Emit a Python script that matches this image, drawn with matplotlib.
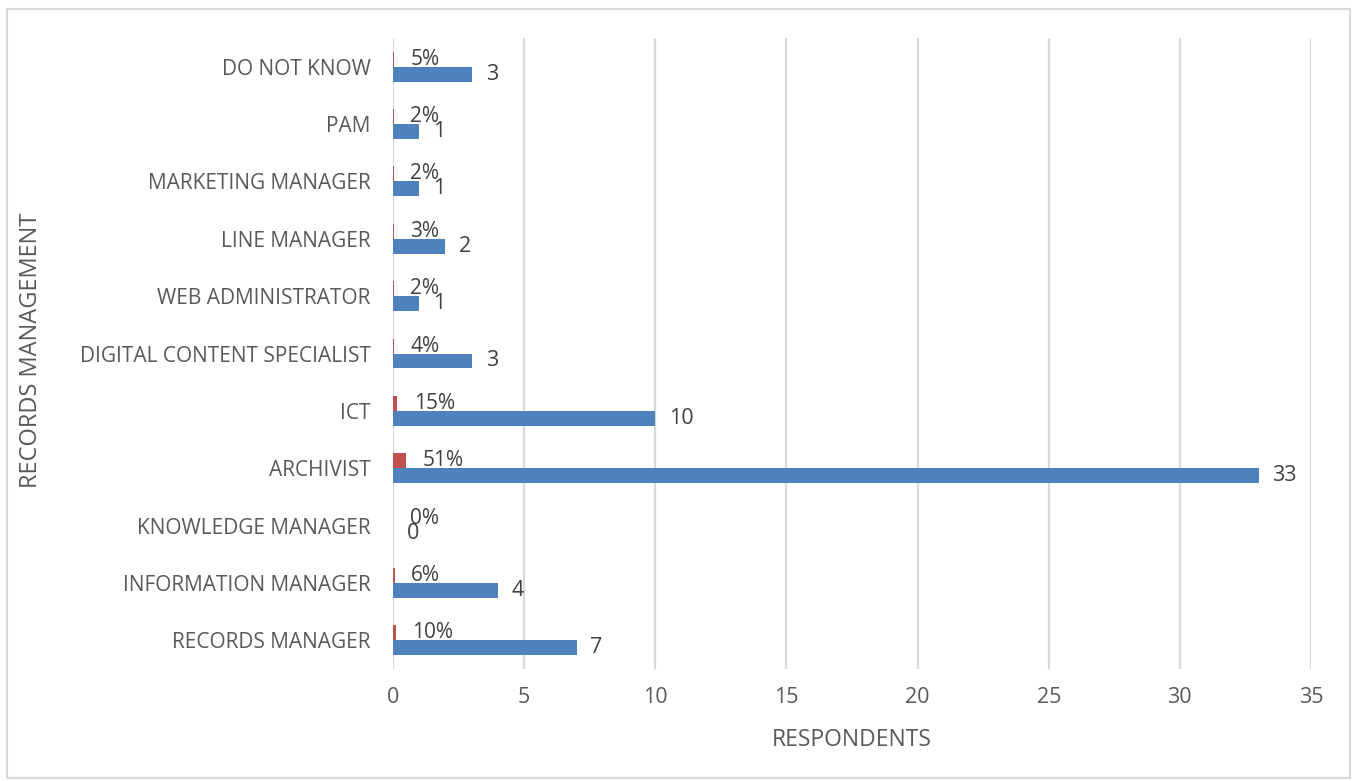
import matplotlib.pyplot as plt
from matplotlib.patches import Rectangle
import numpy as np

plt.rcParams['font.family'] = ['Open Sans', 'DejaVu Sans']

# Job titles, bottom to top
roles = ['RECORDS MANAGER', 'INFORMATION MANAGER', 'KNOWLEDGE MANAGER', 'ARCHIVIST',
         'ICT', 'DIGITAL CONTENT SPECIALIST', 'WEB ADMINISTRATOR', 'LINE MANAGER',
         'MARKETING MANAGER', 'PAM', 'DO NOT KNOW']
respondents = [7, 4, 0, 33, 10, 3, 1, 2, 1, 1, 3]
share = [0.10, 0.06, 0.0, 0.51, 0.15, 0.04, 0.02, 0.03, 0.02, 0.02, 0.05]

blue = '#4F81BD'
red = '#C0504D'
grey = '#595959'

fig = plt.figure(figsize=(13.57, 7.81), dpi=100)
ax = fig.add_axes([393/1357, 1 - 669/781, (1311 - 393)/1357, (669 - 38)/781])

y = np.arange(len(roles))
h = 0.26
bars_n = ax.barh(y - h/2, respondents, height=h, color=blue, zorder=3)
bars_p = ax.barh(y + h/2, share, height=h, color=red, zorder=3)

for b, v in zip(bars_n, respondents):
    ax.annotate(str(v), (b.get_width(), b.get_y() + b.get_height()/2),
                xytext=(10, 0), textcoords='offset points',
                va='center', ha='left', fontsize=15.5, color='#404040')
for b, v in zip(bars_p, share):
    ax.annotate(f'{round(v*100)}%', (b.get_width(), b.get_y() + b.get_height()/2),
                xytext=(12, 0), textcoords='offset points',
                va='center', ha='left', fontsize=15, color='#404040')

ax.set_xlim(0, 35)
ax.set_ylim(-0.5, len(roles) - 0.5)
ax.set_xticks(range(0, 36, 5))
ax.set_yticks(y)
ax.set_yticklabels(roles)
ax.tick_params(length=0, labelsize=15, labelcolor=grey)
ax.tick_params(axis='x', pad=13, labelsize=15.5)
ax.tick_params(axis='y', pad=16)
ax.grid(axis='x', color='#D9D9D9', linewidth=1.6, zorder=0)
for s in ax.spines.values():
    s.set_visible(False)

ax.set_xlabel('RESPONDENTS', fontsize=16.5, color=grey, labelpad=14)
fig.text(31/1357, 1 - 350/781, 'RECORDS MANAGEMENT', rotation=90,
         ha='center', va='center', fontsize=17, color=grey)

# outer chart border
fig.patches.append(Rectangle((7/1357, 1 - 778/781), 1343/1357, 769/781,
                             transform=fig.transFigure, fill=False,
                             edgecolor='#D9D9D9', linewidth=1.5))

plt.savefig('out.png')
